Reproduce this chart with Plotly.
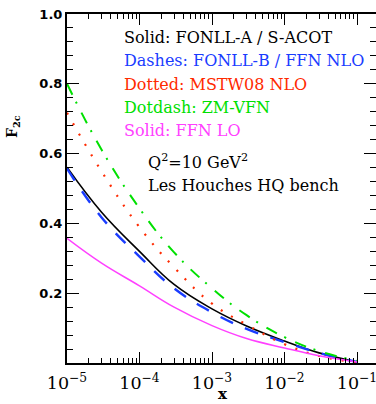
import plotly.graph_objects as go

# ---- data ----
x_vals = [1e-5, 3e-5, 1e-4, 3e-4, 1e-3, 3e-3, 1e-2, 3e-2, 1e-1]
fonll_a = [0.561, 0.432, 0.320, 0.225, 0.155, 0.106, 0.063, 0.029, 0.003]
fonll_b = [0.557, 0.417, 0.305, 0.214, 0.145, 0.098, 0.060, 0.029, 0.003]
mstw08 = [0.717, 0.549, 0.389, 0.274, 0.170, 0.110, 0.054, 0.020, 0.002]
zm_vfn = [0.800, 0.611, 0.443, 0.317, 0.214, 0.137, 0.074, 0.034, 0.006]
ffn_lo = [0.357, 0.286, 0.221, 0.160, 0.107, 0.070, 0.043, 0.021, 0.003]

legend_texts = ["Solid: FONLL-A / S-ACOT", "Dashes: FONLL-B / FFN NLO",
                "Dotted: MSTW08 NLO", "Dotdash: ZM-VFN", "Solid: FFN LO"]
legend_colors = ["#000000", "#1a3cff", "#ff2a00", "#00e000", "#ff40ff"]
y_ticks = [0.2, 0.4, 0.6, 0.8, 1.0]

W, H = 376, 404
L, R, T, B = 67, 376, 14, 363


def px(xp):
    return (xp - L) / (R - L)


def py(yp):
    return (B - yp) / (B - T)


fig = go.Figure()
series = [
    (fonll_a, legend_colors[0], "solid", 1.6),
    (fonll_b, legend_colors[1], "14px,13px", 2.4),
    (mstw08, legend_colors[2], "2px,10px", 2.2),
    (zm_vfn, legend_colors[3], "12px,8px,2px,10px", 2.0),
    (ffn_lo, legend_colors[4], "solid", 1.5),
]
for ys, col, dash, w in series:
    fig.add_trace(go.Scatter(x=x_vals, y=ys, mode="lines",
                             line=dict(color=col, dash=dash, width=w, shape="spline", smoothing=1.2),
                             showlegend=False, hoverinfo="skip"))

tickfont_serif = dict(family="DejaVu Serif", size=14, color="black")
fig.update_xaxes(type="log", range=[-5, -1 + (R - 357) / 72.5], dtick=1, automargin=False,
                 exponentformat="power", showgrid=False, zeroline=False,
                 showline=True, linewidth=2, linecolor="black", mirror="ticks",
                 ticks="inside", ticklen=11, tickwidth=1.3, tickcolor="black",
                 tickfont=tickfont_serif, ticklabelstandoff=4, ticklabeloverflow="allow",
                 minor=dict(dtick="D1", ticks="inside", ticklen=5, tickwidth=1.1,
                            tickcolor="black", showgrid=False))
fig.update_yaxes(range=[0, 1], tickvals=y_ticks, ticktext=["%.1f" % v for v in y_ticks],
                 automargin=False, showgrid=False, zeroline=False,
                 showline=True, linewidth=2, linecolor="black", mirror="ticks",
                 ticks="inside", ticklen=12, tickwidth=1.3, tickcolor="black",
                 tickfont=dict(family="DejaVu Sans", size=13, color="black", weight="bold"),
                 minor=dict(dtick=0.04, tick0=0, ticks="inside", ticklen=6, tickwidth=1.1,
                            tickcolor="black", showgrid=False))

ann = []
legend_y = [38, 61, 84, 107, 130]
txt_font = 16
for t, c, yy in zip(legend_texts, legend_colors, legend_y):
    ann.append(dict(text=t, x=px(122), y=py(yy), xref="paper", yref="paper",
                    xanchor="left", yanchor="middle", showarrow=False,
                    font=dict(family="DejaVu Serif", size=txt_font, color=c)))
ann.append(dict(text="Q<sup>2</sup>=10 GeV<sup>2</sup>", x=px(146), y=py(161), xref="paper", yref="paper",
                xanchor="left", yanchor="middle", showarrow=False,
                font=dict(family="DejaVu Serif", size=txt_font, color="black")))
ann.append(dict(text="Les Houches HQ bench", x=px(146), y=py(185), xref="paper", yref="paper",
                xanchor="left", yanchor="middle", showarrow=False,
                font=dict(family="DejaVu Serif", size=txt_font, color="black")))
ann.append(dict(text="<b>F<sub>2c</sub></b>", x=px(13), y=py(127), xref="paper", yref="paper",
                xanchor="center", yanchor="middle", showarrow=False, textangle=-90,
                font=dict(family="DejaVu Serif", size=14, color="black")))
ann.append(dict(text="<b>x</b>", x=px(223), y=py(394), xref="paper", yref="paper",
                xanchor="center", yanchor="middle", showarrow=False,
                font=dict(family="DejaVu Serif", size=15, color="black")))

fig.update_layout(width=W, height=H, margin=dict(l=L, r=W - R, t=T, b=H - B),
                  paper_bgcolor="white", plot_bgcolor="white", annotations=ann)

fig.write_html("out.html")
